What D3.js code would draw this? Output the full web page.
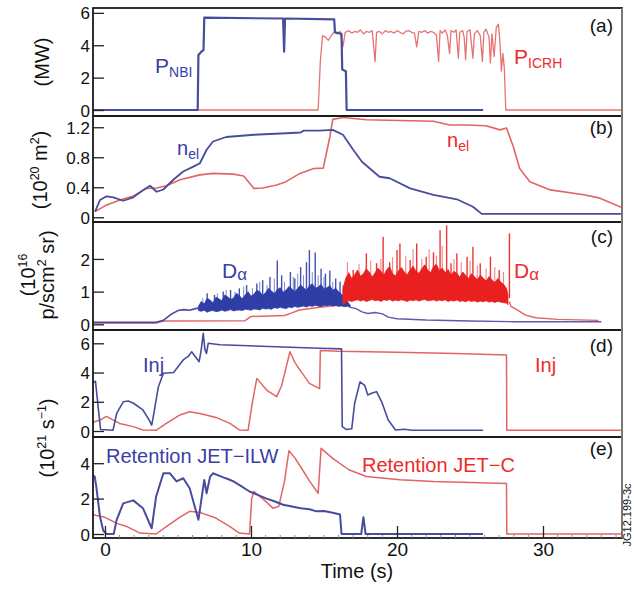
<!DOCTYPE html>
<html><head><meta charset="utf-8">
<script src="https://cdn.jsdelivr.net/npm/d3@7"></script>
<style>
body{margin:0;background:#fff}
svg{display:block}
text{font-family:"Liberation Sans",Arial,Helvetica,sans-serif}
</style></head>
<body><svg id="c" width="634" height="592"></svg>
<script>
// ---------------- DATA ----------------
const xTicks = [0, 10, 20, 30];
const yTicksA = [0, 2, 4, 6];
const yTicksB = [0, 0.4, 0.8, 1.2];
const yTicksC = [0, 1, 2];
const yTicksD = [0, 2, 4, 6];
const yTicksE = [0, 2, 4];
const panelLetters = ["(a)", "(b)", "(c)", "(d)", "(e)"];

// (a) heating power, MW  [time s, value]
const pNBI = [[-0.82,0],[6.35,0],[6.4,3.4],[6.6,3.6],[6.75,3.7],[6.8,5.7],[12.2,5.65],[12.27,3.6],[12.33,5.65],[15.7,5.6],[15.75,4.8],[16.2,4.7],[16.25,2.5],[16.5,2.4],[16.55,0],[25.9,0]];
const pICRH = [[-0.82,0],[14.6,0],[14.75,3.0],[14.9,4.6],[15.1,4.5],[15.3,4.3],[15.5,4.6],[15.7,4.8],[15.9,4.7],[16.1,4.85],[16.3,3.9],[16.45,4.8],[16.7,4.9],[16.9,4.75],[17.1,4.85],[17.3,4.8],[17.5,4.95],[17.7,4.7],[17.9,4.85],[18.1,4.8],[18.3,4.9],[18.5,3.0],[18.6,4.8],[18.8,4.85],[19.0,4.7],[19.2,4.9],[19.4,4.8],[19.6,4.85],[19.8,4.75],[20.0,4.9],[20.2,4.8],[20.4,4.7],[20.6,4.85],[20.8,4.9],[21.0,4.8],[21.2,4.75],[21.35,3.9],[21.5,4.85],[21.7,4.8],[21.9,4.9],[22.1,4.75],[22.3,4.85],[22.5,4.8],[22.7,4.6],[22.85,3.0],[22.95,4.9],[23.1,4.75],[23.3,4.95],[23.45,4.6],[23.6,3.5],[23.7,4.9],[23.9,4.8],[24.05,4.95],[24.2,3.2],[24.3,4.8],[24.5,4.9],[24.6,4.5],[24.7,3.1],[24.8,4.85],[25.0,4.95],[25.2,3.2],[25.3,4.7],[25.5,4.9],[25.7,4.6],[25.85,3.0],[25.95,4.8],[26.1,5.0],[26.3,4.5],[26.4,2.9],[26.5,4.7],[26.65,3.3],[26.8,5.1],[26.95,5.3],[27.05,4.2],[27.15,2.4],[27.25,3.5],[27.35,2.6],[27.45,0],[35.41,0]];

// (b) line-integrated density, 10^20 m^-2
const nelILW = [[-0.68,0.075],[-0.34,0.23],[0.11,0.28],[0.57,0.265],[1.25,0.22],[1.94,0.265],[2.6,0.36],[3.08,0.42],[3.54,0.34],[4.0,0.37],[4.68,0.5],[5.36,0.61],[6.05,0.675],[6.5,0.72],[6.96,0.9],[7.4,1.01],[8.3,1.07],[10.2,1.10],[12.4,1.12],[13.4,1.13],[13.6,1.155],[14.7,1.155],[15.6,1.165],[16.3,1.10],[17.0,0.90],[17.6,0.74],[18.8,0.54],[19.5,0.52],[20.9,0.385],[22.5,0.30],[24.1,0.24],[25.2,0.14],[25.8,0.045],[35.41,0.045]];
const nelC = [[-0.68,0.075],[0.11,0.165],[1.03,0.23],[1.94,0.285],[2.85,0.385],[3.54,0.39],[4.2,0.42],[5.14,0.5],[6.5,0.565],[7.4,0.585],[8.8,0.575],[9.5,0.55],[10.2,0.385],[10.8,0.39],[11.76,0.43],[12.4,0.475],[13.36,0.585],[14.3,0.65],[14.95,0.655],[15.4,1.07],[15.6,1.305],[16.3,1.33],[17.9,1.30],[20.2,1.29],[22.5,1.28],[23.6,1.23],[24.8,1.23],[26.1,1.22],[27.05,1.165],[27.5,1.19],[27.97,0.94],[28.4,0.65],[29.1,0.475],[30.5,0.365],[32.8,0.30],[33.9,0.255],[35.41,0.13]];

// (c) D-alpha, 10^16 p/scm^2 sr
const daILW = [[-0.82,0.06],[3.5,0.06],[4.0,0.12],[4.5,0.3],[5.0,0.42],[5.4,0.45],[5.8,0.43],[6.2,0.48],[6.4,0.5]];
const daILWTail = [[16.8,0.52],[17.2,0.48],[17.6,0.38],[18.0,0.33],[18.5,0.36],[19.0,0.32],[19.4,0.22],[20.0,0.17],[22.0,0.13],[25.0,0.1],[28.0,0.08],[34.0,0.08]];
// band [time, low, high]
const daILWBand = [[6.4,.42,.55],[6.6,.40,.70],[6.8,.43,.62],[7.0,.37,.80],[7.2,.41,.74],[7.4,.42,.66],[7.6,.39,.83],[7.8,.40,.78],[8.0,.44,.72],[8.2,.40,.90],[8.4,.42,.84],[8.6,.45,.76],[8.8,.41,.80],[9.0,.43,.95],[9.2,.44,.88],[9.4,.42,.78],[9.6,.46,.90],[9.8,.45,1.0],[10.0,.43,.86],[10.2,.47,.92],[10.4,.46,1.04],[10.6,.44,1.00],[10.8,.49,.88],[11.0,.47,.97],[11.2,.48,1.10],[11.4,.46,1.02],[11.6,.51,.94],[11.8,.49,1.06],[12.0,.52,1.12],[12.2,.50,.98],[12.4,.48,1.04],[12.6,.53,1.16],[12.8,.51,1.08],[13.0,.55,1.00],[13.2,.52,1.10],[13.4,.54,1.20],[13.6,.56,1.12],[13.8,.53,1.04],[14.0,.57,1.18],[14.2,.55,1.24],[14.4,.58,1.10],[14.6,.56,1.14],[14.8,.54,1.22],[15.0,.58,1.08],[15.2,.57,1.12],[15.4,.59,1.18],[15.6,.56,1.04],[15.8,.58,1.10],[16.0,.55,1.0],[16.2,.56,.92],[16.4,.54,.84],[16.6,.55,.70],[16.8,.52,.58]];
const daILWSpikes = [[7.0,0.95],[7.5,0.9],[8.1,1.0],[8.6,1.05],[9.2,1.1],[9.7,1.2],[10.4,1.25],[10.8,1.35],[11.3,1.45],[11.8,1.95],[12.1,1.5],[12.7,1.6],[13.0,1.4],[13.4,1.75],[13.8,1.9],[14.0,2.27],[14.4,2.2],[14.8,1.7],[15.1,1.55],[15.4,1.65],[15.8,1.4],[16.1,1.3]];
const daILWSpikesSmall = [[6.7,0.8],[7.7,0.95],[8.3,1.05],[8.9,1.0],[9.5,1.15],[10.1,1.1],[10.6,1.3],[11.1,1.2],[11.6,1.4],[12.3,1.3],[12.9,1.45],[13.2,1.55],[13.6,1.5],[14.2,1.6],[14.6,1.5],[15.0,1.45],[15.6,1.3],[16.3,1.2]];
const daC = [[-0.82,0.04],[3.5,0.04],[4.0,0.1],[9.6,0.11],[10.0,0.24],[12.3,0.27],[12.8,0.35],[13.3,0.44],[14.7,0.52],[16.3,0.6]];
const daCBand = [[16.3,.60,1.10],[16.5,.68,1.42],[16.7,.72,1.58],[16.9,.70,1.40],[17.1,.73,1.52],[17.3,.75,1.66],[17.5,.71,1.47],[17.7,.74,1.55],[17.9,.70,1.70],[18.1,.73,1.60],[18.3,.76,1.45],[18.5,.72,1.58],[18.7,.74,1.72],[18.9,.70,1.62],[19.1,.75,1.50],[19.3,.73,1.68],[19.5,.76,1.76],[19.7,.71,1.55],[19.9,.74,1.48],[20.1,.72,1.64],[20.3,.75,1.74],[20.5,.73,1.60],[20.7,.70,1.52],[20.9,.74,1.66],[21.1,.72,1.78],[21.3,.75,1.62],[21.5,.71,1.56],[21.7,.74,1.70],[21.9,.76,1.82],[22.1,.72,1.66],[22.3,.73,1.58],[22.5,.75,1.76],[22.7,.71,1.84],[22.9,.74,1.64],[23.1,.72,1.72],[23.3,.75,1.58],[23.5,.70,1.68],[23.7,.73,1.50],[23.9,.71,1.62],[24.1,.74,1.56],[24.3,.70,1.44],[24.5,.72,1.60],[24.7,.69,1.50],[24.9,.73,1.40],[25.1,.70,1.55],[25.3,.72,1.46],[25.5,.68,1.36],[25.7,.71,1.50],[25.9,.69,1.42],[26.1,.72,1.32],[26.3,.68,1.46],[26.5,.70,1.36],[26.7,.67,1.28],[26.9,.70,1.40],[27.1,.68,1.30],[27.3,.66,1.22],[27.5,.65,1.10],[27.6,.60,0.90]];
const daCSpikes = [[17.0,1.66],[17.9,2.17],[18.6,1.87],[19.05,2.68],[19.5,1.9],[20.0,2.27],[20.2,2.47],[20.9,1.97],[21.35,2.47],[22.0,2.07],[22.5,2.2],[22.95,2.88],[23.4,3.03],[23.7,1.87],[24.1,2.17],[24.8,2.07],[25.2,2.37],[25.7,1.87],[26.4,2.07],[27.0,1.66],[27.7,2.78]];
const daCSpikesSmall = [[16.6,1.9],[17.4,1.85],[18.2,1.95],[18.9,2.0],[19.7,2.05],[20.6,2.1],[21.1,2.3],[21.7,2.0],[22.2,2.3],[22.7,2.1],[23.1,2.4],[23.9,2.0],[24.4,1.9],[25.0,1.95],[25.5,1.8],[26.1,1.7],[26.7,1.75],[27.3,1.6]];
const daCTail = [[27.7,0.7],[27.8,0.55],[28.2,0.45],[28.8,0.28],[29.5,0.2],[31.0,0.15],[33.8,0.12]];

// (d) injection, 10^21 s^-1
const injILW = [[-0.82,3.3],[-0.65,3.4],[-0.45,1.5],[-0.3,0.1],[0.55,0.05],[0.8,1.2],[1.25,2.0],[1.6,2.05],[1.95,1.9],[2.6,1.44],[3.0,0.8],[3.2,0.4],[3.35,1.2],[3.65,3.0],[4.0,3.95],[4.7,4.0],[5.0,4.4],[5.36,4.86],[5.7,5.1],[5.94,5.42],[6.1,5.2],[6.45,4.74],[6.6,5.6],[6.73,6.68],[6.85,5.54],[6.95,5.3],[7.07,6.0],[7.87,5.9],[14.7,5.66],[16.2,5.62],[16.25,0.3],[16.55,0.1],[16.9,0.15],[17.1,1.9],[17.47,3.37],[17.8,3.1],[18.0,2.46],[18.3,2.6],[18.6,2.69],[18.95,2.0],[19.4,0.75],[19.9,0.07],[20.5,0.12],[21.0,0.05],[25.9,0.05]];
const injC = [[-0.82,0.55],[-0.7,0.64],[-0.34,0.75],[0.1,1.0],[0.57,0.75],[1.0,0.52],[1.94,0.3],[2.6,0.07],[3.5,0.05],[4.2,0.52],[5.14,1.1],[5.8,1.32],[6.5,1.2],[7.6,0.93],[8.56,0.52],[9.2,0.07],[9.8,0.05],[10.1,2.0],[10.4,3.6],[11.07,2.8],[11.76,2.35],[12.1,3.1],[12.67,5.42],[13.0,4.7],[13.36,4.17],[14.0,3.26],[14.7,2.9],[14.75,5.5],[16.0,5.45],[20.0,5.38],[24.0,5.3],[27.5,5.2],[27.52,0.05],[35.41,0.05]];

// (e) retention, 10^21 s^-1
const retILW = [[-0.82,3.3],[-0.7,3.24],[-0.6,2.7],[-0.34,0.98],[-0.12,0.2],[0.1,0.0],[0.6,0.0],[0.8,0.8],[1.25,1.73],[1.94,1.9],[2.6,1.46],[3.2,0.32],[3.5,2.1],[4.0,3.43],[4.45,3.43],[4.9,2.97],[5.36,3.15],[5.8,2.58],[6.4,0.8],[6.7,2.5],[6.8,3.05],[6.96,2.3],[7.2,3.24],[7.4,3.43],[7.8,3.3],[8.1,3.2],[8.5,3.08],[8.8,2.97],[9.3,2.72],[9.9,2.4],[10.5,2.2],[11.07,2.0],[11.6,1.85],[12.2,1.65],[12.8,1.55],[13.4,1.46],[14.0,1.4],[14.5,1.28],[15.0,1.3],[15.6,1.2],[16.1,1.1],[16.2,0.0],[17.55,0.0],[17.7,0.95],[17.85,0.0],[25.9,0.0]];
const retC = [[-0.82,1.1],[-0.6,1.05],[-0.12,0.98],[0.34,0.8],[0.8,0.6],[1.5,0.42],[2.4,0.05],[3.5,0.0],[4.2,0.42],[5.14,0.95],[5.8,1.28],[6.5,1.22],[7.6,0.9],[8.56,0.42],[9.2,0.05],[9.9,0.0],[10.05,2.0],[10.2,2.4],[10.8,2.0],[11.5,1.46],[11.9,1.55],[12.3,3.0],[12.6,4.7],[13.0,4.3],[13.4,3.8],[14.0,3.0],[14.6,2.3],[14.8,4.84],[15.6,4.27],[16.7,3.63],[17.9,3.25],[20.2,3.07],[22.5,2.97],[27.5,2.86],[27.52,0.0],[35.41,0.0]];

// ---------------- DRAW ----------------
const BLUE = "#484c9c", BLUE_T = "#3a3ea6", RED = "#e36464", RED_T = "#ee2a2a", RED_F = "#ea2020", BLUE_F = "#2f3ea6";
const svg = d3.select("#c");
const L = 93, R = 622;
const x = d3.scaleLinear().domain([-0.82, 35.41]).range([L, R]);

const panels = [
  {top: 8,   bottom: 116, dom: [-0.37, 6.3],   ticks: yTicksA, fmt: d => d},
  {top: 116, bottom: 222, dom: [-0.063, 1.35], ticks: yTicksB, fmt: d => d === 0 ? "0" : d.toFixed(1)},
  {top: 222, bottom: 330, dom: [-0.174, 3.13], ticks: yTicksC, fmt: d => d},
  {top: 330, bottom: 437, dom: [-0.41, 6.91],  ticks: yTicksD, fmt: d => d},
  {top: 437, bottom: 538, dom: [-0.226, 5.48], ticks: yTicksE, fmt: d => d}
];
panels.forEach((p, i) => {
  p.y = d3.scaleLinear().domain(p.dom).range([p.bottom, p.top]);
  svg.append("clipPath").attr("id", "cp" + i).append("rect")
    .attr("x", L).attr("y", p.top).attr("width", R - L).attr("height", p.bottom - p.top);
  p.g = svg.append("g").attr("clip-path", `url(#cp${i})`);
});

function drawLine(p, data, color, w, op) {
  const ln = d3.line().x(d => x(d[0])).y(d => p.y(d[1]));
  p.g.append("path").datum(data).attr("d", ln).attr("fill", "none")
    .attr("stroke", color).attr("stroke-width", w).attr("stroke-opacity", op == null ? 1 : op)
    .attr("stroke-linejoin", "round");
}
function drawBand(p, data, color) {
  const ar = d3.area().x(d => x(d[0])).y0(d => p.y(d[1])).y1(d => p.y(d[2]));
  p.g.append("path").datum(data).attr("d", ar).attr("fill", color).attr("stroke", color).attr("stroke-width", 0.8);
}
function drawSpikes(p, data, base, color, w, op) {
  p.g.selectAll(null).data(data).enter().append("line")
    .attr("x1", d => x(d[0])).attr("x2", d => x(d[0]))
    .attr("y1", p.y(base)).attr("y2", d => p.y(d[1]))
    .attr("stroke", color).attr("stroke-width", w).attr("stroke-opacity", op);
}

// (a)
drawLine(panels[0], pICRH, RED, 1.3, 0.9);
drawLine(panels[0], pNBI, BLUE, 2.2);
// (b)
drawLine(panels[1], nelC, RED, 1.6);
drawLine(panels[1], nelILW, BLUE, 1.8);
// (c)
drawLine(panels[2], daC, RED, 1.5);
drawLine(panels[2], daILW, BLUE, 1.6);
drawLine(panels[2], daILWTail, BLUE, 1.4, 0.9);
drawSpikes(panels[2], daILWSpikesSmall, 0.6, BLUE_F, 1, 0.6);
drawBand(panels[2], daILWBand, BLUE_F);
drawSpikes(panels[2], daILWSpikes, 0.6, BLUE_F, 1.4, 0.9);
drawSpikes(panels[2], daCSpikesSmall, 0.8, RED_F, 1, 0.6);
drawBand(panels[2], daCBand, RED_F);
drawSpikes(panels[2], daCSpikes, 0.8, RED_F, 1.4, 0.9);
drawLine(panels[2], daCTail, RED, 1.4);
// (d)
drawLine(panels[3], injC, RED, 1.5);
drawLine(panels[3], injILW, BLUE, 1.6);
// (e)
drawLine(panels[4], retC, RED, 1.5);
drawLine(panels[4], retILW, BLUE, 2.0);

// axes
panels.forEach((p, i) => {
  const ax = svg.append("g").attr("transform", `translate(${L},0)`)
    .call(d3.axisLeft(p.y).tickValues(p.ticks).tickFormat(p.fmt).tickSize(-11).tickPadding(3));
  ax.select(".domain").remove();
  ax.selectAll(".tick line").attr("stroke", "#222").attr("stroke-width", 1.3);
  ax.selectAll(".tick text").attr("font-size", 17).attr("fill", "#111")
    .attr("font-family", '"Liberation Sans",Arial,sans-serif').attr("dy", "0.36em");
  svg.append("rect").attr("x", L).attr("y", p.top).attr("width", R - L).attr("height", p.bottom - p.top)
    .attr("fill", "none").attr("stroke", "#1a1a1a").attr("stroke-width", 1.8);
  svg.append("text").attr("x", 613).attr("y", [32, 134, 243, 352, 455][i]).attr("text-anchor", "end")
    .attr("font-size", 19).attr("fill", "#111").text(panelLetters[i]);
});
svg.append("line").attr("x1", R).attr("x2", R).attr("y1", 8).attr("y2", 538).attr("stroke", "#777").attr("stroke-width", 2);

const pb = panels[4];
const xa = svg.append("g").attr("transform", `translate(0,${pb.bottom})`)
  .call(d3.axisBottom(x).tickValues(xTicks).tickSize(-12).tickPadding(5));
xa.select(".domain").remove();
xa.selectAll(".tick line").attr("stroke", "#222").attr("stroke-width", 1.3);
xa.selectAll(".tick text").attr("font-size", 19).attr("fill", "#111").attr("font-family", '"Liberation Sans",Arial,sans-serif');
const minor = d3.range(0, 36).filter(v => v % 10 !== 0);
svg.append("g").selectAll("line").data(minor).enter().append("line")
  .attr("x1", d => x(d)).attr("x2", d => x(d)).attr("y1", pb.bottom).attr("y2", pb.bottom - 3)
  .attr("stroke", "#888").attr("stroke-width", 1);

svg.append("text").attr("x", 357).attr("y", 578).attr("text-anchor", "middle").attr("font-size", 20).attr("fill", "#111").text("Time (s)");

// y-axis titles (rotated)
function rotLabel(cx, cy, parts, size) {
  const t = svg.append("text").attr("transform", `translate(${cx},${cy}) rotate(-90)`)
    .attr("text-anchor", "middle").attr("font-size", size).attr("fill", "#111");
  parts.forEach(pt => {
    const s = t.append("tspan").text(pt[0]);
    if (pt[1] === "sup") s.attr("font-size", size * 0.62).attr("dy", -size * 0.4);
    if (pt[1] === "back") s.attr("dy", size * 0.4);
  });
}
rotLabel(49, 62, [["(MW)"]], 20);
rotLabel(47, 170, [["(10"], ["20", "sup"], [" m", "back"], ["2", "sup"], [")", "back"]], 20);
rotLabel(35, 275, [["(10"], ["16", "sup"]], 20);
rotLabel(54, 275, [["p/scm"], ["2", "sup"], [" sr)", "back"]], 20);
rotLabel(54, 438, [["(10"], ["21", "sup"], [" s", "back"], ["−1", "sup"], [")", "back"]], 20);

// series labels
function subLabel(xx, yy, main, sub, color, size, subSize, subDy) {
  const t = svg.append("text").attr("x", xx).attr("y", yy).attr("font-size", size).attr("fill", color);
  t.append("tspan").text(main);
  if (sub) t.append("tspan").attr("font-size", subSize).attr("dy", subDy).text(sub);
}
subLabel(155, 73, "P", "NBI", BLUE_T, 21, 14, 4);
subLabel(514, 64, "P", "ICRH", RED_T, 21, 14, 4);
subLabel(177, 155, "n", "el", BLUE_T, 20, 14, 4);
subLabel(447, 147, "n", "el", RED_T, 20, 14, 4);
subLabel(222, 278, "D", "α", BLUE_T, 21, 17, 2);
subLabel(514, 278, "D", "α", RED_T, 21, 17, 2);
subLabel(143, 372, "Inj", null, BLUE_T, 20);
subLabel(535, 372, "Inj", null, RED_T, 20);
subLabel(106, 463, "Retention JET−ILW", null, BLUE_T, 20);
subLabel(362, 472, "Retention JET−C", null, RED_T, 20);

svg.append("text").attr("transform", "translate(631,515) rotate(-90)").attr("text-anchor", "middle")
  .attr("font-size", 11).attr("fill", "#111").text("JG12.199-3c");
</script></body></html>
